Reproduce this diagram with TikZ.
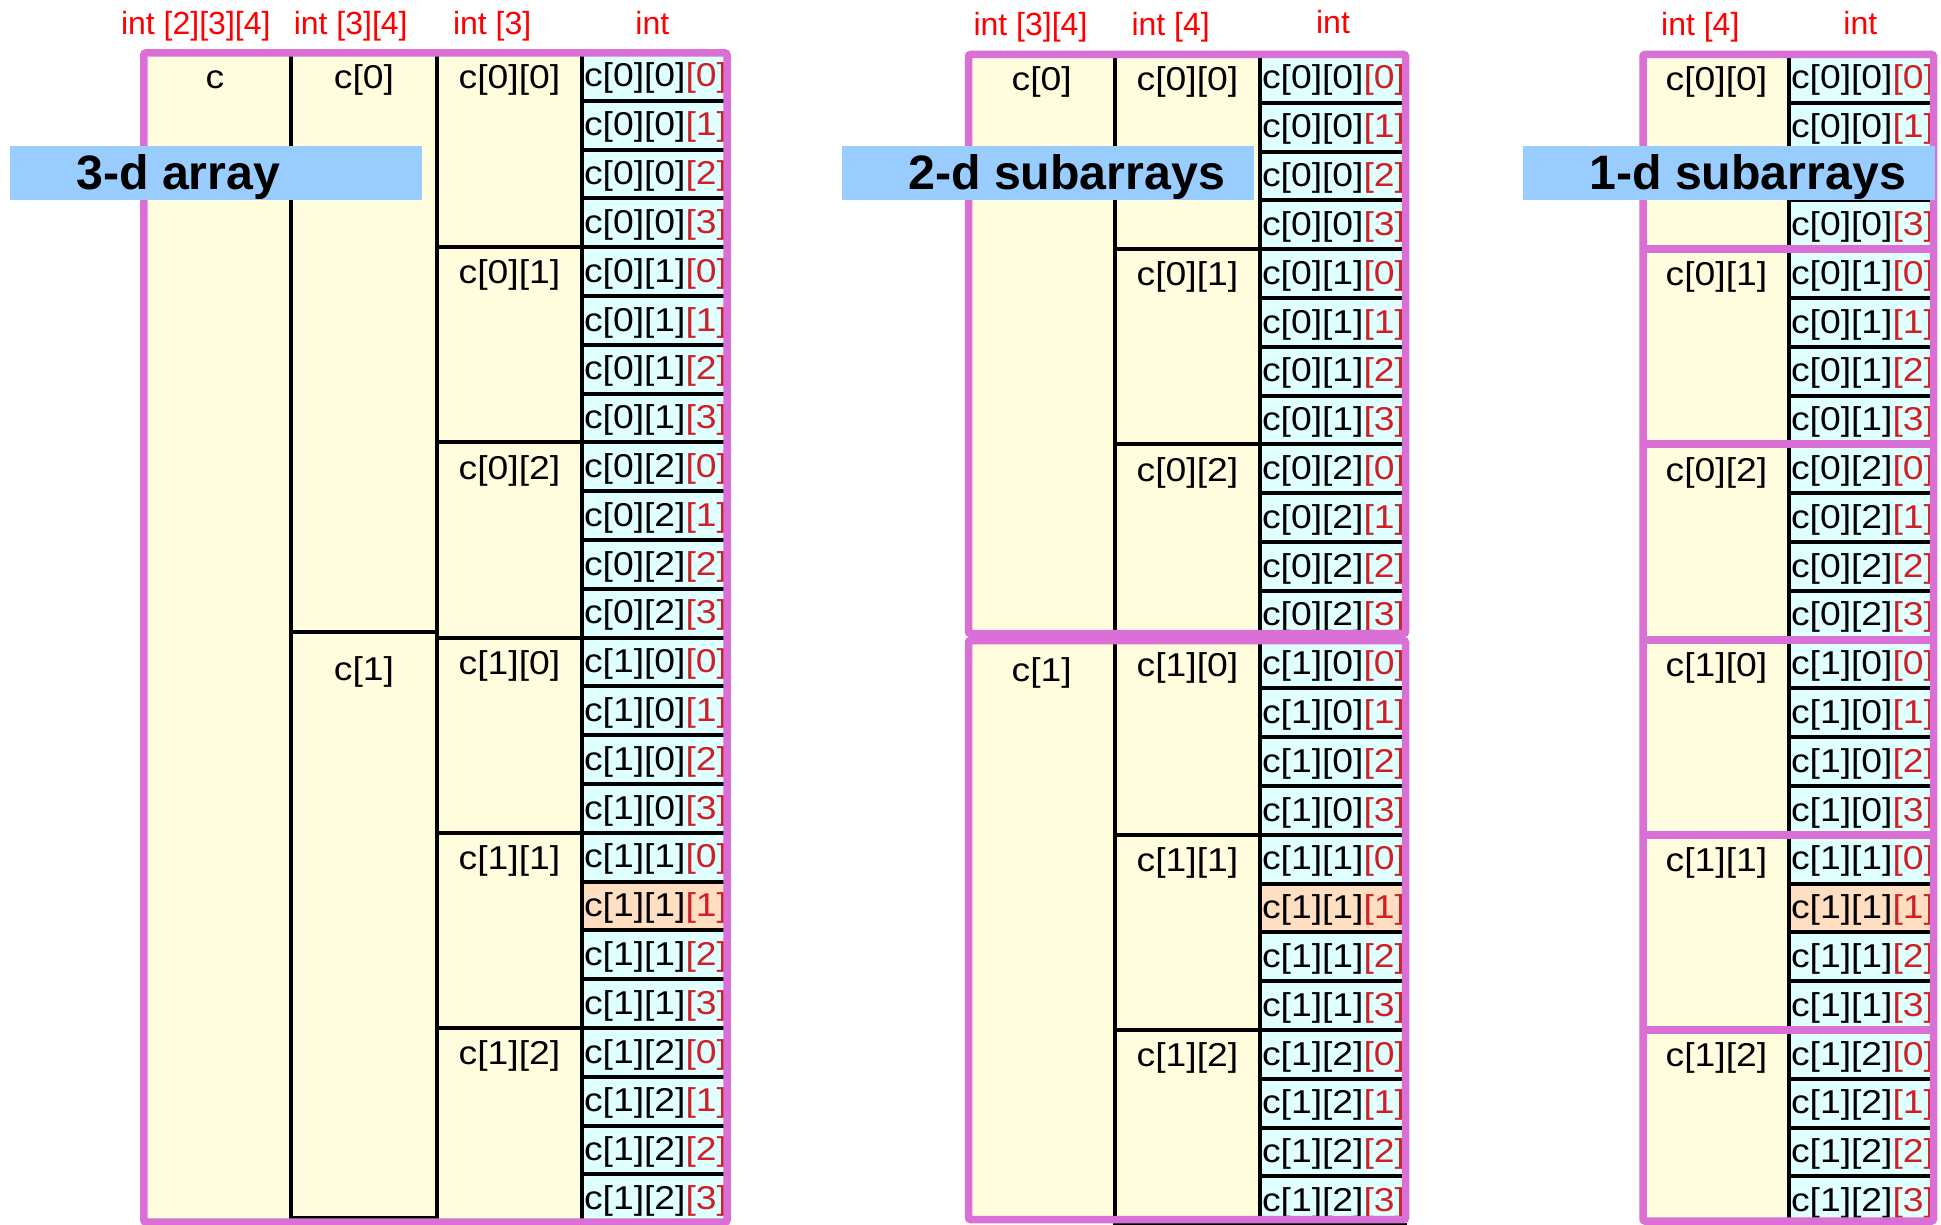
\documentclass[tikz,border=0pt]{standalone}
\usepackage{fontspec}
\setmainfont{Liberation Sans}
\newfontfamily\cellfont[FakeStretch=1.13]{Liberation Sans}
\definecolor{magframe}{RGB}{218,112,214}
\definecolor{yel}{RGB}{255,253,222}
\definecolor{cyanfill}{RGB}{224,255,255}
\definecolor{hl}{RGB}{255,222,194}
\definecolor{titleblue}{RGB}{153,204,255}
\definecolor{cellred}{RGB}{206,32,38}
\definecolor{labred}{RGB}{255,0,0}
\tikzset{
  celltext/.style={font=\cellfont\fontsize{33}{39}\selectfont, inner sep=0pt, text height=24.1pt, text depth=6.9pt},
  labtext/.style={font=\fontsize{32}{38}\selectfont, text=labred, inner sep=0pt},
  titletext/.style={font=\bfseries\fontsize{48.3}{58}\selectfont, inner sep=0pt},
  blk/.style={line width=4pt, draw=black},
  frm/.style={line width=7.5pt, draw=magframe, rounded corners=2pt},
}
\newcommand\mkintcol[4]{%
  \foreach \k in {0,...,23} {%
    \pgfmathsetmacro\yt{#4+48.8*\k}%
    \pgfmathsetmacro\yb{#4+48.8*(\k+1)}%
    \ifnum\k=17\relax
      \fill[hl] (#2,\yt) rectangle (#3,\yb);
    \else
      \fill[cyanfill] (#2,\yt) rectangle (#3,\yb);
    \fi
  }%
  \foreach \k in {1,...,23} \draw[blk] (#2,{#4+48.8*\k}) -- (#3,{#4+48.8*\k});
  \draw[blk] (#2,#4) -- (#2,1225);
  \begin{scope}
    \clip (#2,#4) rectangle (#3,1225);
    \foreach \k in {0,...,23} {%
      \pgfmathsetmacro\yc{#4+48.8*\k+24.4+2}%
      \pgfmathtruncatemacro\ii{\k/12}%
      \pgfmathtruncatemacro\jj{mod(\k,12)/4}%
      \pgfmathtruncatemacro\ll{mod(\k,4)}%
      \node[celltext, anchor=west] (#1\k) at (#2+1.8,\yc) {c[\ii][\jj]\textcolor{cellred}{[\ll]}};
    }%
  \end{scope}
}
\begin{document}
\begin{tikzpicture}[x=1pt,y=-1pt]
\useasboundingbox (0,0) rectangle (1941,1225);
\fill[white] (0,0) rectangle (1941,1225);

% ---------------- Panel 1: 3-d array ----------------
\fill[yel] (143.8,53) rectangle (727,1222);
\mkintcol{pAi}{582}{727}{52}
\draw[blk] (437,52) -- (437,1225);
\draw[blk] (291,52) -- (291,1218) -- (437,1218);
\draw[blk] (291,632) -- (437,632);
\foreach \m in {4,8,12,16,20} \draw[blk] (437,{52+48.8*\m}) -- (582,{52+48.8*\m});
\node[celltext] (pAc) at (215,80) {c};
\node[celltext] (pAc0) at (364,80) {c[0]};
\node[celltext] (pAc1) at (364,672) {c[1]};
\foreach \i in {0,1} \foreach \j in {0,1,2} {%
  \pgfmathsetmacro\yy{52+48.8*(12*\i+4*\j)+28}%
  \node[celltext] (pAs\i\j) at (509.5,\yy) {c[\i][\j]};
}
\draw[frm] (143.8,53) rectangle (727,1222);

% ---------------- Panel 2: 2-d subarrays ----------------
\fill[yel] (968.5,54.5) rectangle (1405.5,1219.5);
\mkintcol{pBi}{1260}{1405.5}{54}
\draw[blk] (1115,54) -- (1115,1225);
\foreach \m in {4,8,12,16,20} \draw[blk] (1115,{54+48.8*\m}) -- (1260,{54+48.8*\m});
\draw[line width=3pt] (1113,1224) -- (1407,1224);
\node[celltext] (pBc0) at (1041.75,82) {c[0]};
\node[celltext] (pBc1) at (1041.75,673) {c[1]};
\foreach \i in {0,1} \foreach \j in {0,1,2} {%
  \pgfmathsetmacro\yy{54+48.8*(12*\i+4*\j)+28}%
  \node[celltext] (pBs\i\j) at (1187.5,\yy) {c[\i][\j]};
}
\draw[frm] (968.5,54.5) rectangle (1405.5,633.5);
\draw[frm] (968.5,640.5) rectangle (1405.5,1219.5);

% ---------------- Panel 3: 1-d subarrays ----------------
\fill[yel] (1643,54.5) rectangle (1933.5,1221);
\mkintcol{pCi}{1789}{1933.5}{54}
\foreach \i in {0,1} \foreach \j in {0,1,2} {%
  \pgfmathsetmacro\yy{54+48.8*(12*\i+4*\j)+28}%
  \node[celltext] (pCs\i\j) at (1716.5,\yy) {c[\i][\j]};
}
\draw[frm] (1643,54.5) rectangle (1933.5,1221);
\foreach \m in {4,8,12,16,20} \draw[frm, line width=8pt, rounded corners=0pt] (1643,{54+48.8*\m}) -- (1933.5,{54+48.8*\m});

% ---------------- Titles ----------------
\fill[titleblue] (10,146.5) rectangle (422,200);
\node[titletext, anchor=base west] (tA) at (76,190) {3-d array};
\fill[titleblue] (842,146.5) rectangle (1254,200);
\node[titletext, anchor=base west] (tB) at (908,190) {2-d subarrays};
\fill[titleblue] (1523,146.5) rectangle (1935,200);
\node[titletext, anchor=base west] (tC) at (1589,190) {1-d subarrays};

% ---------------- Type labels ----------------
\node[labtext, anchor=base] (lA1) at (195.8,34.3) {int [2][3][4]};
\node[labtext, anchor=base] (lA2) at (350.7,34.3) {int [3][4]};
\node[labtext, anchor=base] (lA3) at (492.2,34.3) {int [3]};
\node[labtext, anchor=base] (lA4) at (652.3,34.3) {int};
\node[labtext, anchor=base] (lB1) at (1030.5,36) {int [3][4]};
\node[labtext, anchor=base] (lB2) at (1170.7,36) {int [4]};
\node[labtext, anchor=base] (lB3) at (1333,33.5) {int};
\node[labtext, anchor=base] (lC1) at (1700.3,36) {int [4]};
\node[labtext, anchor=base] (lC2) at (1860.3,35) {int};
\end{tikzpicture}
\end{document}
